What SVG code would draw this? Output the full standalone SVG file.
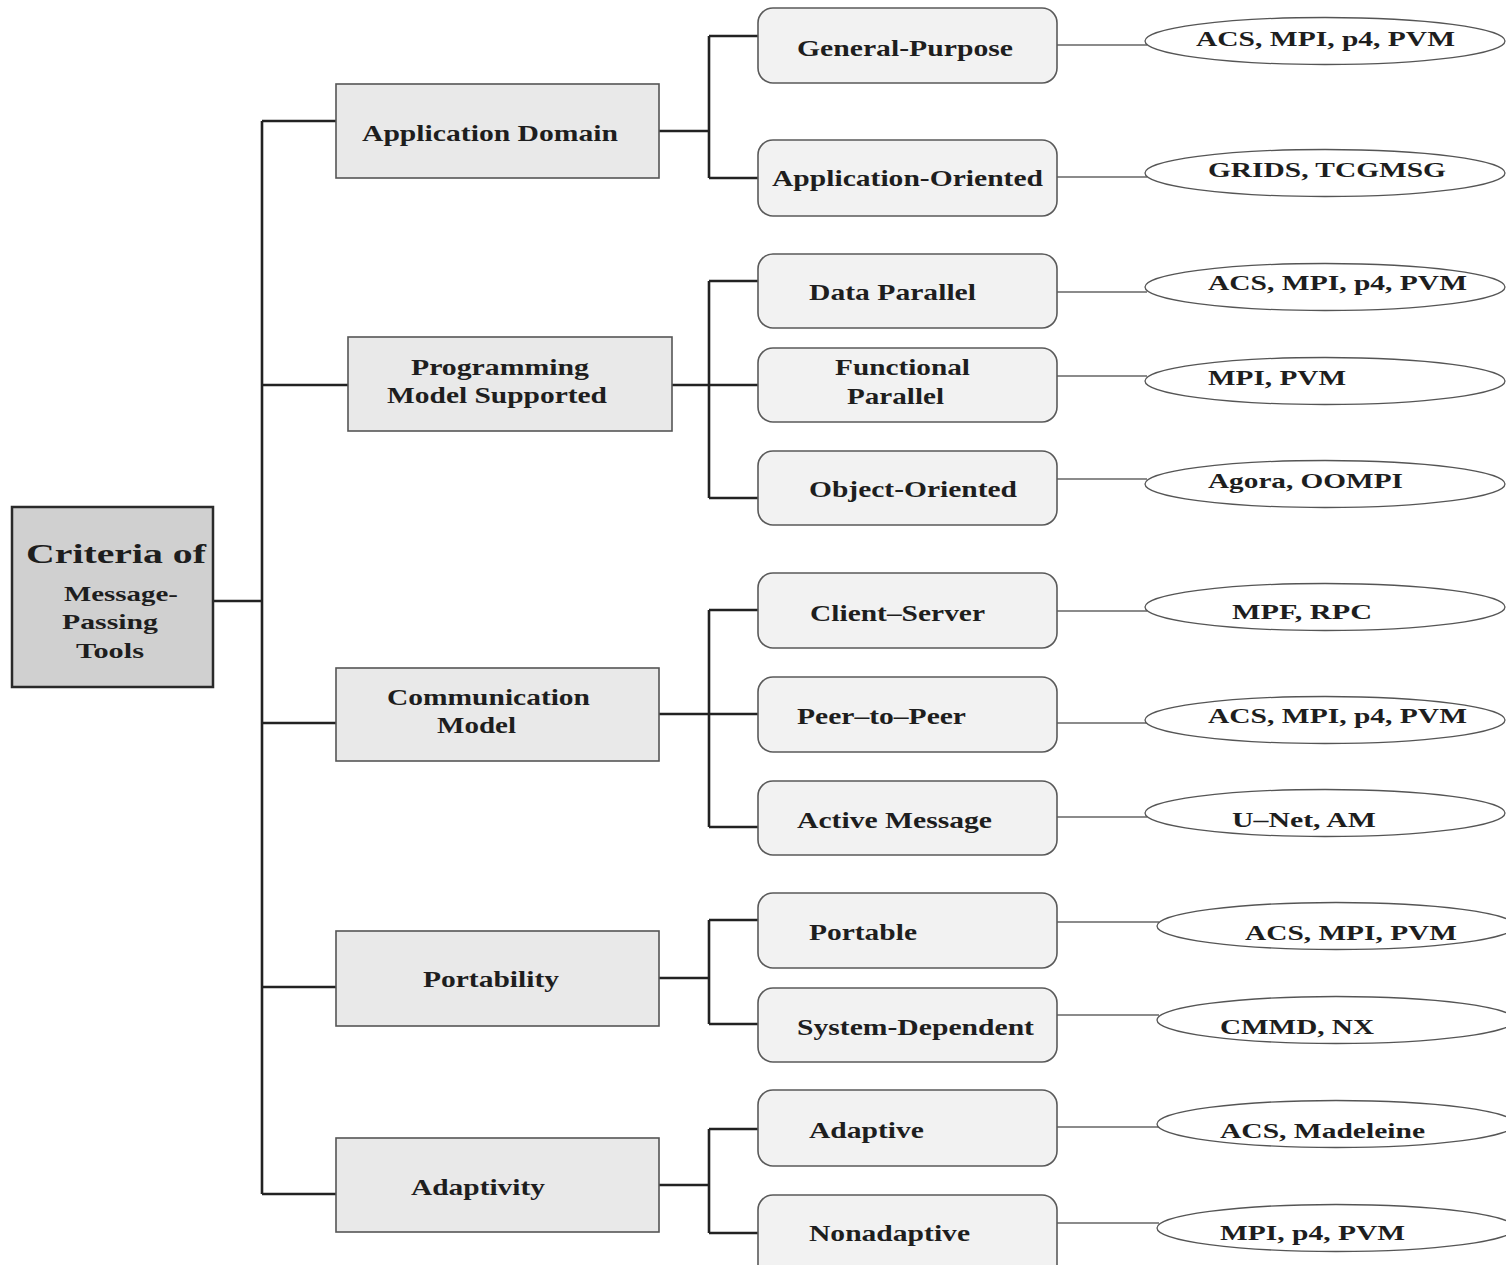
<svg xmlns="http://www.w3.org/2000/svg" width="1506" height="1265" viewBox="0 0 1506 1265">
  <style>
    .t { font-family: "Liberation Serif", "Times New Roman", serif; font-weight: bold; fill: #1e1e1e; }
    .root { fill: #d0d0d0; stroke: #2a2a2a; stroke-width: 2.5; }
    .mid { fill: #e9e9e9; stroke: #555; stroke-width: 1.6; }
    .leaf { fill: #f2f2f2; stroke: #5a5a5a; stroke-width: 1.6; }
    .tool { fill: #ffffff; stroke: #555; stroke-width: 1.3; }
    .tree { fill: none; stroke: #222; stroke-width: 2.6; }
    .thin { fill: none; stroke: #666; stroke-width: 1.4; }
    .f28 { font-size: 28px; }
    .f24 { font-size: 24px; }
    .f22 { font-size: 22px; }
  </style>
  <rect width="1506" height="1265" fill="#ffffff"/>

  <!-- connectors -->
  <g id="connectors">
    <path class="tree" d="M212,601 H262 M262,121 V1194
      M262,121 H336 M262,385 H348 M262,723 H336 M262,987 H336 M262,1194 H336
      M659,131 H709 M709,36 V178 M709,36 H758 M709,178 H758
      M672,385 H758 M709,281 V498 M709,281 H758 M709,498 H758
      M659,714 H758 M709,610 V827 M709,610 H758 M709,827 H758
      M659,978 H709 M709,920 V1024 M709,920 H758 M709,1024 H758
      M659,1185 H709 M709,1129 V1233 M709,1129 H758 M709,1233 H758"/>
    <path class="thin" d="M1057,45 H1147 M1057,177 H1147 M1057,292 H1147 M1057,376 H1147
      M1057,479 H1147 M1057,611 H1147 M1057,723 H1147 M1057,817 H1147
      M1057,922 H1159 M1057,1015 H1159 M1057,1127 H1159 M1057,1223 H1159"/>
  </g>

  <!-- root -->
  <g id="root">
    <rect class="root" x="12" y="507" width="201" height="180"/>
    <text class="t f28" x="26" y="563" textLength="180" lengthAdjust="spacingAndGlyphs">Criteria of</text>
    <text class="t f22" x="64" y="601" textLength="114" lengthAdjust="spacingAndGlyphs">Message-</text>
    <text class="t f22" x="62" y="629" textLength="96" lengthAdjust="spacingAndGlyphs">Passing</text>
    <text class="t f22" x="76" y="658" textLength="68" lengthAdjust="spacingAndGlyphs">Tools</text>
  </g>

  <!-- criteria -->
  <g id="application-domain">
    <rect class="mid" x="336" y="84" width="323" height="94"/>
    <text class="t f24" x="362" y="141" textLength="256" lengthAdjust="spacingAndGlyphs">Application Domain</text>
  </g>
  <g id="programming-model">
    <rect class="mid" x="348" y="337" width="324" height="94"/>
    <text class="t f24" x="411" y="375" textLength="178" lengthAdjust="spacingAndGlyphs">Programming</text>
    <text class="t f24" x="387" y="403" textLength="220" lengthAdjust="spacingAndGlyphs">Model Supported</text>
  </g>
  <g id="communication-model">
    <rect class="mid" x="336" y="668" width="323" height="93"/>
    <text class="t f24" x="387" y="705" textLength="203" lengthAdjust="spacingAndGlyphs">Communication</text>
    <text class="t f24" x="437" y="733" textLength="79" lengthAdjust="spacingAndGlyphs">Model</text>
  </g>
  <g id="portability">
    <rect class="mid" x="336" y="931" width="323" height="95"/>
    <text class="t f24" x="423" y="987" textLength="136" lengthAdjust="spacingAndGlyphs">Portability</text>
  </g>
  <g id="adaptivity">
    <rect class="mid" x="336" y="1138" width="323" height="94"/>
    <text class="t f24" x="411" y="1195" textLength="134" lengthAdjust="spacingAndGlyphs">Adaptivity</text>
  </g>

  <!-- categories -->
  <g id="general-purpose">
    <rect class="leaf" x="758" y="8" width="299" height="75" rx="15"/>
    <text class="t f24" x="797" y="56" textLength="216" lengthAdjust="spacingAndGlyphs">General-Purpose</text>
  </g>
  <g id="application-oriented">
    <rect class="leaf" x="758" y="140" width="299" height="76" rx="15"/>
    <text class="t f24" x="772" y="186" textLength="271" lengthAdjust="spacingAndGlyphs">Application-Oriented</text>
  </g>
  <g id="data-parallel">
    <rect class="leaf" x="758" y="254" width="299" height="74" rx="15"/>
    <text class="t f24" x="809" y="300" textLength="167" lengthAdjust="spacingAndGlyphs">Data Parallel</text>
  </g>
  <g id="functional-parallel">
    <rect class="leaf" x="758" y="348" width="299" height="74" rx="15"/>
    <text class="t f24" x="835" y="375" textLength="135" lengthAdjust="spacingAndGlyphs">Functional</text>
    <text class="t f24" x="847" y="404" textLength="97" lengthAdjust="spacingAndGlyphs">Parallel</text>
  </g>
  <g id="object-oriented">
    <rect class="leaf" x="758" y="451" width="299" height="74" rx="15"/>
    <text class="t f24" x="809" y="497" textLength="208" lengthAdjust="spacingAndGlyphs">Object-Oriented</text>
  </g>
  <g id="client-server">
    <rect class="leaf" x="758" y="573" width="299" height="75" rx="15"/>
    <text class="t f24" x="810" y="621" textLength="175" lengthAdjust="spacingAndGlyphs">Client–Server</text>
  </g>
  <g id="peer-to-peer">
    <rect class="leaf" x="758" y="677" width="299" height="75" rx="15"/>
    <text class="t f24" x="797" y="724" textLength="169" lengthAdjust="spacingAndGlyphs">Peer–to–Peer</text>
  </g>
  <g id="active-message">
    <rect class="leaf" x="758" y="781" width="299" height="74" rx="15"/>
    <text class="t f24" x="797" y="828" textLength="195" lengthAdjust="spacingAndGlyphs">Active Message</text>
  </g>
  <g id="portable">
    <rect class="leaf" x="758" y="893" width="299" height="75" rx="15"/>
    <text class="t f24" x="809" y="940" textLength="108" lengthAdjust="spacingAndGlyphs">Portable</text>
  </g>
  <g id="system-dependent">
    <rect class="leaf" x="758" y="988" width="299" height="74" rx="15"/>
    <text class="t f24" x="797" y="1035" textLength="237" lengthAdjust="spacingAndGlyphs">System-Dependent</text>
  </g>
  <g id="adaptive">
    <rect class="leaf" x="758" y="1090" width="299" height="76" rx="15"/>
    <text class="t f24" x="809" y="1138" textLength="115" lengthAdjust="spacingAndGlyphs">Adaptive</text>
  </g>
  <g id="nonadaptive">
    <rect class="leaf" x="758" y="1195" width="299" height="90" rx="15"/>
    <text class="t f24" x="809" y="1241" textLength="161" lengthAdjust="spacingAndGlyphs">Nonadaptive</text>
  </g>

  <!-- example tools -->
  <g id="tools-general">
    <ellipse class="tool" cx="1325" cy="41" rx="180" ry="23.5"/>
    <text class="t f22" x="1196" y="46" textLength="259" lengthAdjust="spacingAndGlyphs">ACS, MPI, p4, PVM</text>
  </g>
  <g id="tools-application">
    <ellipse class="tool" cx="1325" cy="173" rx="180" ry="23.5"/>
    <text class="t f22" x="1208" y="177" textLength="238" lengthAdjust="spacingAndGlyphs">GRIDS, TCGMSG</text>
  </g>
  <g id="tools-data">
    <ellipse class="tool" cx="1325" cy="287" rx="180" ry="23.5"/>
    <text class="t f22" x="1208" y="290" textLength="259" lengthAdjust="spacingAndGlyphs">ACS, MPI, p4, PVM</text>
  </g>
  <g id="tools-functional">
    <ellipse class="tool" cx="1325" cy="381" rx="180" ry="23.5"/>
    <text class="t f22" x="1208" y="385" textLength="138" lengthAdjust="spacingAndGlyphs">MPI, PVM</text>
  </g>
  <g id="tools-object">
    <ellipse class="tool" cx="1325" cy="484" rx="180" ry="23.5"/>
    <text class="t f22" x="1208" y="488" textLength="195" lengthAdjust="spacingAndGlyphs">Agora, OOMPI</text>
  </g>
  <g id="tools-client">
    <ellipse class="tool" cx="1325" cy="607" rx="180" ry="23.5"/>
    <text class="t f22" x="1232" y="619" textLength="140" lengthAdjust="spacingAndGlyphs">MPF, RPC</text>
  </g>
  <g id="tools-peer">
    <ellipse class="tool" cx="1325" cy="720" rx="180" ry="23.5"/>
    <text class="t f22" x="1208" y="723" textLength="259" lengthAdjust="spacingAndGlyphs">ACS, MPI, p4, PVM</text>
  </g>
  <g id="tools-active">
    <ellipse class="tool" cx="1325" cy="813" rx="180" ry="23.5"/>
    <text class="t f22" x="1232" y="827" textLength="144" lengthAdjust="spacingAndGlyphs">U–Net, AM</text>
  </g>
  <g id="tools-portable">
    <ellipse class="tool" cx="1336" cy="926" rx="179" ry="23.5"/>
    <text class="t f22" x="1245" y="940" textLength="212" lengthAdjust="spacingAndGlyphs">ACS, MPI, PVM</text>
  </g>
  <g id="tools-system">
    <ellipse class="tool" cx="1336" cy="1020" rx="179" ry="23.5"/>
    <text class="t f22" x="1220" y="1034" textLength="154" lengthAdjust="spacingAndGlyphs">CMMD, NX</text>
  </g>
  <g id="tools-adaptive">
    <ellipse class="tool" cx="1336" cy="1124" rx="179" ry="23.5"/>
    <text class="t f22" x="1220" y="1138" textLength="205" lengthAdjust="spacingAndGlyphs">ACS, Madeleine</text>
  </g>
  <g id="tools-nonadaptive">
    <ellipse class="tool" cx="1336" cy="1228" rx="179" ry="23.5"/>
    <text class="t f22" x="1220" y="1240" textLength="185" lengthAdjust="spacingAndGlyphs">MPI, p4, PVM</text>
  </g>
</svg>
